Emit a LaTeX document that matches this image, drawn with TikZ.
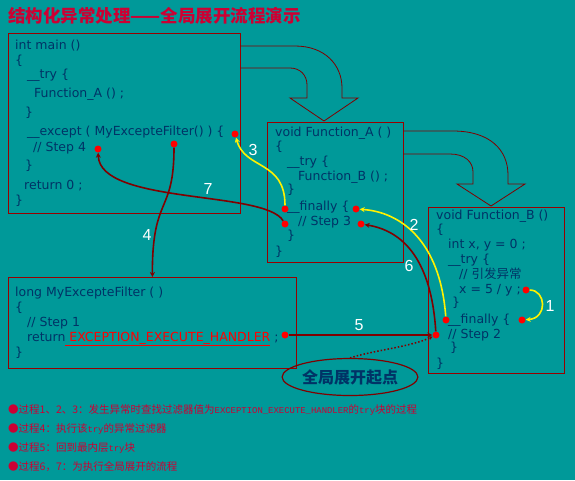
\documentclass[tikz,border=0pt]{standalone}
\usepackage{fontspec}
\setmainfont{DejaVu Sans}
\newfontfamily\cjk{Noto Sans CJK SC}
\newfontfamily\numfont{Liberation Sans}
\newfontfamily\legmono[Scale=0.85]{Liberation Mono}
\usetikzlibrary{arrows.meta, shapes.geometric, positioning, calc}
\definecolor{bgteal}{RGB}{0,153,153}
\definecolor{codeblue}{RGB}{0,51,102}
\definecolor{boxred}{RGB}{153,0,0}
\definecolor{flowred}{RGB}{128,0,0}
\definecolor{titlered}{RGB}{204,0,51}

\begin{document}
\begin{tikzpicture}[
    x=1pt, y=-1pt,
    box/.style={
        rectangle,
        draw=boxred,
        line width=0.8pt,
        anchor=north west,
        inner sep=0pt
    },
    code/.style={
        anchor=west,
        inner sep=0pt,
        text=codeblue,
        font=\fontsize{12.5}{14}\selectfont,
        text height=9pt,
        text depth=2.5pt
    },
    dot/.style={circle, fill=red, inner sep=0pt, minimum size=7pt},
    flow/.style={draw=flowred, line width=1.6pt, -{Stealth[length=5pt,width=5pt]}},
    hit/.style={draw=yellow, line width=1.6pt, -{Stealth[length=5pt,width=5pt]}},
    bigarrow/.style={draw=flowred, line width=0.8pt},
    num/.style={text=white, inner sep=0pt, font=\numfont\fontsize{16}{18}\selectfont},
    legend/.style={anchor=west, inner sep=0pt, text=titlered, font=\cjk\fontsize{10.5}{12}\selectfont}
]

    \fill[bgteal] (0,0) rectangle (575,480);
    \useasboundingbox (0,0) rectangle (575,480);

    \node (title) [anchor=west, inner sep=0pt, text=titlered, font=\cjk\bfseries\fontsize{17.5}{20}\selectfont] at (8,16) {结构化异常处理——全局展开流程演示};

    % code boxes
    \node (main) [box, minimum width=232pt, minimum height=180pt] at (8,33) {};
    \node (funA) [box, minimum width=136pt, minimum height=140pt] at (267,122) {};
    \node (funB) [box, minimum width=136pt, minimum height=166pt] at (428,207) {};
    \node (filter) [box, minimum width=288pt, minimum height=91pt] at (8,277) {};

    % main
    \node (m1l) [code] at (15,46) {int main ()};
    \node (m2l) [code] at (15,61) {\{};
    \node (m3l) [code] at (27,75) {\_\_try \{};
    \node (m4l) [code] at (34,94) {Function\_A () ;};
    \node (m5l) [code] at (25,113) {\}};
    \node (m6l) [code] at (27,132) {\_\_except ( MyExcepteFilter() ) \{};
    \node (m7l) [code] at (33,148) {// Step 4};
    \node (m8l) [code] at (25,166) {\}};
    \node (m9l) [code] at (24,186) {return 0 ;};
    \node (m10l) [code] at (15,201) {\}};

    % Function_A
    \node (a1l) [code] at (275,133) {void Function\_A ( )};
    \node (a2l) [code] at (275,147) {\{};
    \node (a3l) [code] at (287,162) {\_\_try \{};
    \node (a4l) [code] at (298,177) {Function\_B () ;};
    \node (a5l) [code] at (287,190) {\}};
    \node (a6l) [code] at (287,207) {\_\_finally \{};
    \node (a7l) [code] at (298,222) {// Step 3};
    \node (a8l) [code] at (287,236) {\}};
    \node (a9l) [code] at (275,252) {\}};

    % Function_B
    \node (b1l) [code] at (436,216) {void Function\_B ()};
    \node (b2l) [code] at (436,230) {\{};
    \node (b3l) [code] at (448,245) {int x, y = 0 ;};
    \node (b4l) [code] at (448,260) {\_\_try \{};
    \node (b5l) [code] at (459,275) {// {\cjk 引发异常}};
    \node (b6l) [code] at (459,290) {x = 5 / y ;};
    \node (b7l) [code] at (452,303) {\}};
    \node (b8l) [code] at (448,320) {\_\_finally \{};
    \node (b9l) [code] at (448,335) {// Step 2};
    \node (b10l) [code] at (450,348) {\}};
    \node (b11l) [code] at (436,364) {\}};

    % MyExcepteFilter
    \node (f1l) [code] at (15,293) {long MyExcepteFilter ( )};
    \node (f2l) [code] at (15,308) {\{};
    \node (f3l) [code] at (27,323) {// Step 1};
    \node (f4l) [code] at (27,338) {return\textcolor{red}{\underline{\ EXCEPTION\_EXECUTE\_HANDLER}}\ ;};
    \node (f5l) [code] at (15,353) {\}};

    % hollow arrows
    \path[bigarrow] (240,46) -- (295,46) .. controls (325,46) and (342,65) .. (342,88) -- (342,98)
        -- (358,98) -- (324,121) -- (290,98) -- (307,98) -- (307,85)
        .. controls (307,75) and (300,68) .. (290,68) -- (240,68);
    \path[bigarrow] (403,131) -- (453,131) .. controls (490,131) and (508,150) .. (508,175) -- (508,184)
        -- (525,184) -- (491,206) -- (457,184) -- (473,184) -- (473,172)
        .. controls (473,162) and (465,154) .. (450,154) -- (403,154);

    % dots
    \node (m1) [dot] at (235,134) {};
    \node (m2) [dot] at (98,149) {};
    \node (m3) [dot] at (174,144) {};
    \node (a1) [dot] at (285,209) {};
    \node (a2) [dot] at (285,224) {};
    \node (a3) [dot] at (356,209) {};
    \node (a4) [dot] at (361,224) {};
    \node (b1) [dot] at (526,290) {};
    \node (b2) [dot] at (522,320) {};
    \node (b3) [dot] at (446,320) {};
    \node (b4) [dot] at (436,335) {};
    \node (f1) [dot] at (285,335) {};

    \node (start) [ellipse, draw=flowred, line width=1.2pt, minimum width=125pt, minimum height=37pt, inner sep=0pt, text=codeblue, font=\cjk\bfseries\fontsize{16}{18}\selectfont] at (350,377) {全局展开起点};

    % flows
    \draw[hit] (b1) .. controls (546,290) and (548,318) .. (b2);
    \draw[hit] (b3) .. controls (440,240) and (400,212) .. (a3);
    \draw[hit] (a1) .. controls (285,160) and (245,170) .. (m1);
    \draw[flow] (m3) .. controls (174,215) and (152,195) .. (filter.north);
    \draw[flow] (f1) -- (b4);
    \draw[flow] (b4) .. controls (432,270) and (410,232) .. (a4);
    \draw[flow] (a2) .. controls (265,190) and (100,205) .. (m2);
    \draw[flowred, dotted, line width=1.5pt, -{Stealth[length=4pt,width=4pt]}] (start.north) .. controls (375,350) and (410,347) .. (b4);

    \node (n1) [num] at (550,306) {1};
    \node (n2) [num] at (414,225) {2};
    \node (n3) [num] at (253,150) {3};
    \node (n4) [num] at (147,235) {4};
    \node (n5) [num] at (359,325) {5};
    \node (n6) [num] at (409,266) {6};
    \node (n7) [num] at (208,189) {7};

    % legend
    \node (leg1) [legend] at (8,410) {●过程1、2、3：发生异常时查找过滤器值为{\legmono EXCEPTION\_EXECUTE\_HANDLER}的{\legmono try}块的过程};
    \node (leg2) [legend] at (8,429) {●过程4：执行该{\legmono try}的异常过滤器};
    \node (leg3) [legend] at (8,448) {●过程5：回到最内层{\legmono try}块};
    \node (leg4) [legend] at (8,467) {●过程6，7：为执行全局展开的流程};

\end{tikzpicture}
\end{document}
